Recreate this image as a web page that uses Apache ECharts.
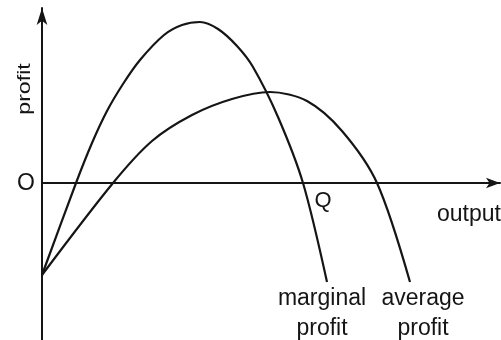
<!DOCTYPE html>
<html>
<head>
<meta charset="utf-8">
<script src="https://cdn.jsdelivr.net/npm/echarts@6/dist/echarts.min.js"></script>
<style>html,body{margin:0;padding:0;background:#fff}#c{width:501px;height:340px}</style>
</head>
<body>
<div id="c"></div>
<script>
// [output, profit] points
var marginalProfit = [[0,-92],[34,0],[50,40],[65,72],[81,99],[98,123],[122,148],[140,158],[158,161],[176,154],[195,137],[211,116],[236,66],[261,0],[285,-99]];
var averageProfit = [[0,-92],[71,0],[110,42],[150,68],[190,84],[228,91],[265,82],[300,52],[335,0],[368,-99]];
var curveLabels = ['marginal\nprofit', 'average\nprofit'];

var ink = '#151515';
var font = '"Liberation Sans", Arial, sans-serif';
var chart = echarts.init(document.getElementById('c'), null, {renderer: 'canvas'});
chart.setOption({
  animation: false,
  backgroundColor: '#fff',
  grid: {left: 42, right: 1, top: 8, bottom: 0},
  xAxis: {
    type: 'value', min: 0, max: 458,
    axisLine: {onZero: true, lineStyle: {color: ink, width: 2}, symbol: ['none', 'arrow'], symbolSize: [8, 14]},
    axisTick: {show: false}, axisLabel: {show: false}, splitLine: {show: false}
  },
  yAxis: {
    type: 'value', min: -157, max: 175,
    axisLine: {show: true, onZero: false, lineStyle: {color: ink, width: 2}, symbol: ['none', 'arrow'], symbolSize: [8, 17]},
    axisTick: {show: false}, axisLabel: {show: false}, splitLine: {show: false}
  },
  series: [
    {name: 'marginal profit', type: 'line', data: marginalProfit, smooth: 0.3, showSymbol: false,
     lineStyle: {color: ink, width: 2.2}},
    {name: 'average profit', type: 'line', data: averageProfit, smooth: 0.3, showSymbol: false,
     lineStyle: {color: ink, width: 2.2}}
  ],
  graphic: [
    {type: 'text', x: 25, y: 89, rotation: Math.PI / 2, scaleX: 1.22,
     style: {text: 'profit', fontSize: 19, fontFamily: font, fill: ink, align: 'center', verticalAlign: 'middle'}},
    {type: 'text', x: 26, y: 184,
     style: {text: 'O', fontSize: 23, fontFamily: font, fill: ink, align: 'center', verticalAlign: 'middle'}},
    {type: 'text', x: 323, y: 201,
     style: {text: 'Q', fontSize: 22, fontFamily: font, fill: ink, align: 'center', verticalAlign: 'middle'}},
    {type: 'text', x: 437, y: 215,
     style: {text: 'output', fontSize: 23, fontFamily: font, fill: ink, align: 'left', verticalAlign: 'middle'}},
    {type: 'text', x: 322, y: 314,
     style: {text: curveLabels[0], fontSize: 23, lineHeight: 30, fontFamily: font, fill: ink, align: 'center', verticalAlign: 'middle'}},
    {type: 'text', x: 423, y: 314,
     style: {text: curveLabels[1], fontSize: 23, lineHeight: 30, fontFamily: font, fill: ink, align: 'center', verticalAlign: 'middle'}}
  ]
});
</script>
</body>
</html>
